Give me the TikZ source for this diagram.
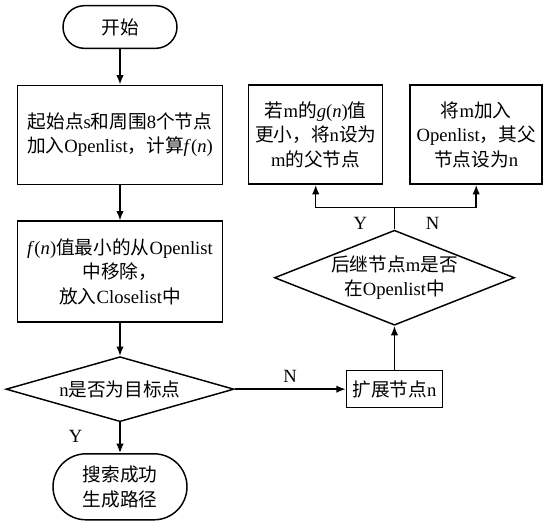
\documentclass[tikz,border=0pt]{standalone}
\usepackage{fontspec}
\setmainfont{Noto Sans CJK SC}
\newfontfamily\enfont{Liberation Serif}
\newcommand{\en}[1]{{\enfont #1}}
\newcommand{\fnof}[1]{{\enfont\textit{#1}(\textit{n})}}
\usetikzlibrary{positioning,shapes.geometric,arrows.meta}

\tikzset{
  base/.style={draw, line width=1.1pt, align=center, inner sep=2pt, font=\fontsize{14}{18.5}\selectfont},
  stepbox/.style={base, rectangle},
  term/.style={base, rectangle, rounded corners=#1},
  decide/.style={base, diamond, aspect=#1, inner sep=0pt},
  arr/.style={line width=1.1pt, -{Latex[length=7pt,width=5.5pt]}},
  lbl/.style={inner sep=1pt, font=\fontsize{14}{16}\selectfont\enfont},
}

\begin{document}
\begin{tikzpicture}
  \useasboundingbox (-90pt,20.25pt) rectangle (321.75pt,-371.25pt);
  \node[term=16pt, minimum width=85.5pt, minimum height=32pt] (start) at (0,0) {开始};
  \node[stepbox, minimum width=153.75pt, minimum height=74.25pt, below=26.6pt of start] (init) {起始点\en{s}和周围\en{8}个节点\\加入\en{Openlist}，计算\fnof{f}};
  \node[stepbox, minimum width=153.75pt, minimum height=75.75pt, below=26.6pt of init] (pop) {\fnof{f}值最小的从\en{Openlist}\\中移除，\\放入\en{Closelist}中};
  \node[decide=3.5, minimum width=171pt, minimum height=48.75pt, below=24.75pt of pop] (goal) {\en{n}是否为目标点};
  \node[term=24.75pt, minimum width=100.5pt, minimum height=49.5pt, below=23pt of goal] (done) {搜索成功\\生成路径};
  \node[stepbox, minimum width=72pt, minimum height=27.75pt, right=83.25pt of goal] (expand) {扩展节点\en{n}};
  \node[decide=2.5, minimum width=180pt, minimum height=71.25pt, above=33pt of expand] (inopen) {后继节点\en{m}是否\\在\en{Openlist}中};
  \node[stepbox, minimum width=100.5pt, minimum height=74.25pt, above left=33.4pt and 8.25pt of inopen.north] (update) {若\en{m}的\fnof{g}值\\更小，将\en{n}设为\\\en{m}的父节点};
  \node[stepbox, minimum width=99pt, minimum height=74.25pt, above right=33.4pt and 11.25pt of inopen.north] (add) {将\en{m}加入\\\en{Openlist}，其父\\节点设为\en{n}};
  \coordinate[above=16.5pt of inopen.north] (split);

  \draw[arr] (start) -- (init);
  \draw[arr] (init) -- (pop);
  \draw[arr] (pop) -- (goal);
  \draw[arr] (goal) -- node[lbl, pos=0.44, left=26.6pt] {Y} (done);
  \draw[arr] (goal) -- node[lbl, midway, above=3.5pt] {N} (expand);
  \draw[arr] (expand) -- (inopen);
  \draw[line width=1.1pt] (inopen.north) -- node[lbl, pos=0.27, left=19pt] {Y} node[lbl, pos=0.27, right=22pt] {N} (split);
  \draw[arr] (split) -| (update.south);
  \draw[arr] (split) -| (add.south);
\end{tikzpicture}
\end{document}
